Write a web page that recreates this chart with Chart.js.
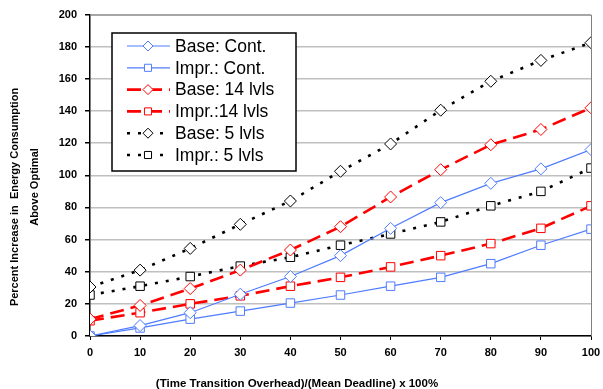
<!DOCTYPE html>
<html>
<head>
<meta charset="utf-8">
<script src="https://cdn.jsdelivr.net/npm/chart.js@4"></script>
<style>
  html, body { margin: 0; padding: 0; background: #fff; }
  #wrap { width: 603px; height: 389px; }
</style>
</head>
<body>
<div id="wrap"><canvas id="chart"></canvas></div>
<script>
const xLabels = [0, 10, 20, 30, 40, 50, 60, 70, 80, 90, 100];
const baseCont = [0, 6.5, 14.5, 26, 37, 50, 67, 83, 95, 104, 116];
const imprCont = [0, 5, 10.5, 15.5, 20.5, 25.5, 31, 36.5, 45, 56.5, 66.5];
const base14 = [10.5, 19, 29.5, 41, 53.5, 68, 86.5, 103.5, 119, 128.5, 142];
const impr14 = [9.5, 14.5, 20, 25, 31, 36.5, 43, 50, 57.5, 67, 81];
const base5 = [30.5, 41, 54.5, 69.5, 84, 102.5, 119.5, 140.5, 158.5, 171.5, 182.5];
const impr5 = [25.5, 31, 37, 43.5, 49, 56.5, 63.5, 71, 81, 90, 104.5];
const seriesNames = ["Base: Cont.", "Impr.: Cont.", "Base: 14 lvls", "Impr.:14 lvls", "Base: 5 lvls", "Impr.: 5 lvls"];
const yTitleLines = ["Percent Increase in  Energy Consumption", "Above Optimal"];
const xTitle = "(Time Transition Overhead)/(Mean Deadline) x 100%";

const blue = "#4f7cff";
const red = "#ff0000";
const black = "#000000";
const fontFamily = "'Liberation Sans', Arial, sans-serif";

function makeSet(name, values, color, shape, width, dash) {
    return {
        label: name,
        data: values.map((v, i) => ({ x: xLabels[i], y: v })),
        borderColor: color,
        borderWidth: width,
        borderDash: dash,
        pointStyle: shape,
        pointRadius: 6,
        pointBorderColor: color,
        pointBorderWidth: 1,
        pointBackgroundColor: "#fff",
        tension: 0,
    };
}

const datasets = [
    makeSet(seriesNames[0], baseCont, blue, "rectRot", 1.2, []),
    makeSet(seriesNames[1], imprCont, blue, "rect", 1.2, []),
    makeSet(seriesNames[2], base14, red, "rectRot", 2.6, [14, 7]),
    makeSet(seriesNames[3], impr14, red, "rect", 2.6, [14, 7]),
    makeSet(seriesNames[4], base5, black, "rectRot", 2.6, [3, 8]),
    makeSet(seriesNames[5], impr5, black, "rect", 2.6, [3, 8]),
];

// gray frame on top and right of the plot, plus both axis titles
const framePlugin = {
    id: "frame",
    beforeDatasetsDraw(chart) {
        const { ctx, chartArea: a } = chart;
        ctx.save();
        ctx.strokeStyle = "#808080";
        ctx.lineWidth = 1;
        ctx.beginPath();
        ctx.moveTo(a.left, a.top + 0.5);
        ctx.lineTo(a.right + 0.5, a.top + 0.5);
        ctx.lineTo(a.right + 0.5, a.bottom);
        ctx.stroke();

        ctx.fillStyle = "#000";
        ctx.textAlign = "center";
        ctx.textBaseline = "middle";
        ctx.font = "bold 11px " + fontFamily;
        [[15, 197], [35, 187]].forEach(([x, y], i) => {
            ctx.save();
            ctx.translate(x, y);
            ctx.rotate(-Math.PI / 2);
            ctx.fillText(yTitleLines[i], 0, 0);
            ctx.restore();
        });
        ctx.font = "bold 11.5px " + fontFamily;
        ctx.fillText(xTitle, 297, 384);
        ctx.restore();
    },
};

// boxed legend with line + marker samples
const legendPlugin = {
    id: "boxLegend",
    afterDatasetsDraw(chart) {
        const ctx = chart.ctx;
        const bx = 112, by = 33, bw = 184, bh = 138;
        ctx.save();
        ctx.fillStyle = "#fff";
        ctx.fillRect(bx, by, bw, bh);
        ctx.strokeStyle = "#000";
        ctx.lineWidth = 1.5;
        ctx.strokeRect(bx, by, bw, bh);
        chart.data.datasets.forEach((ds, i) => {
            const y = 46 + i * 21.8;
            ctx.save();
            ctx.strokeStyle = ds.borderColor;
            ctx.lineWidth = ds.borderWidth;
            ctx.setLineDash(ds.borderDash);
            ctx.beginPath();
            ctx.moveTo(127, y);
            ctx.lineTo(170, y);
            ctx.stroke();
            ctx.restore();
            ctx.fillStyle = "#fff";
            ctx.strokeStyle = ds.borderColor;
            ctx.lineWidth = 1;
            Chart.helpers.drawPoint(ctx, { pointStyle: ds.pointStyle, radius: 5, borderWidth: 1 }, 148, y);
            ctx.fillStyle = "#000";
            ctx.font = "17.5px " + fontFamily;
            ctx.textBaseline = "middle";
            ctx.fillText(ds.label, 175, y + 1);
        });
        ctx.restore();
    },
};

const tickFont = { family: fontFamily, size: 11, weight: "bold" };

new Chart(document.getElementById("chart"), {
    type: "line",
    data: { datasets },
    options: {
        responsive: true,
        maintainAspectRatio: false,
        animation: false,
        layout: { padding: { top: 14, right: 12, left: 0, bottom: 0 } },
        plugins: {
            legend: { display: false },
            tooltip: { enabled: false },
        },
        scales: {
            x: {
                type: "linear",
                min: 0,
                max: 100,
                afterFit: (s) => { s.height = 53; s.paddingRight = 0; },
                afterBuildTicks: (s) => { s.ticks = xLabels.map((v) => ({ value: v })); },
                grid: { display: true, drawOnChartArea: false, tickLength: 4, tickColor: "#000" },
                border: { color: "#000", width: 1.5 },
                ticks: { color: "#000", font: tickFont, padding: 6, maxRotation: 0 },
                title: { display: false },
            },
            y: {
                min: 0,
                max: 200,
                afterFit: (s) => { s.width = 90; },
                ticks: { stepSize: 20, color: "#000", font: tickFont, padding: 8 },
                grid: { color: "#c0c0c0", lineWidth: 1.5, tickLength: 5, tickColor: "#000" },
                border: { color: "#000", width: 1.5 },
                title: { display: false },
            },
        },
    },
    plugins: [framePlugin, legendPlugin],
});
</script>
</body>
</html>
